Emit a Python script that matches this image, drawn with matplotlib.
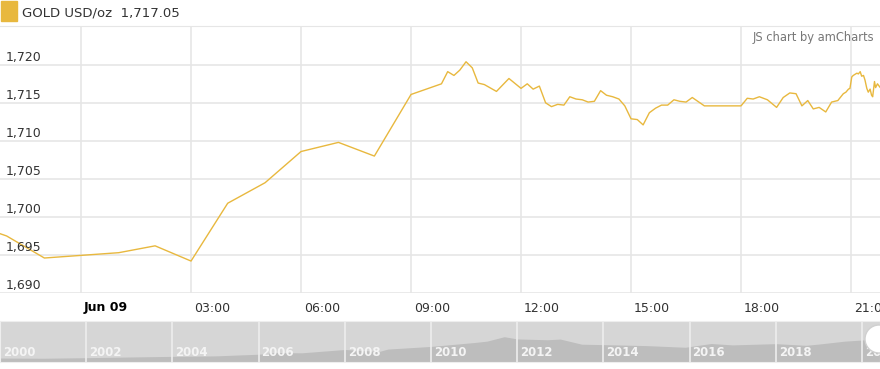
import numpy as np
import matplotlib
matplotlib.use("Agg")
import matplotlib.pyplot as plt
from matplotlib.patches import Rectangle, Ellipse

# -----------------------------
# data (hours from Jun 09 00:00, price USD/oz)
# -----------------------------
hours = [-2.21, -2.03, -1.0, 1.03, 2.02, 3.0, 4.0, 5.02, 6.0, 7.02, 8.0, 9.0,
         9.83, 10.0, 10.17, 10.33, 10.5, 10.67, 10.83, 11.0, 11.33, 11.67, 12.0,
         12.17, 12.33, 12.5, 12.67, 12.83, 13.0, 13.17, 13.33, 13.5, 13.67, 13.83,
         14.0, 14.17, 14.33, 14.5, 14.67, 14.83, 15.0, 15.17, 15.33, 15.5, 15.67,
         15.83, 16.0, 16.17, 16.33, 16.5, 16.67, 17.0, 18.0, 18.17, 18.33, 18.5,
         18.72, 18.97, 19.15, 19.33, 19.5, 19.66, 19.82, 19.97, 20.13, 20.31,
         20.47, 20.64, 20.79, 20.86, 20.93, 20.97, 21.02, 21.06, 21.16, 21.2,
         21.25, 21.29, 21.34, 21.38, 21.43, 21.47, 21.52, 21.56, 21.59, 21.64,
         21.67, 21.72, 21.79]
price = [1697.8, 1697.5, 1694.6, 1695.3, 1696.2, 1694.2, 1701.8, 1704.5, 1708.6,
         1709.8, 1708.0, 1716.1, 1717.5, 1719.1, 1718.6, 1719.3, 1720.4, 1719.6,
         1717.6, 1717.4, 1716.5, 1718.2, 1716.9, 1717.5, 1716.8, 1717.2, 1715.0,
         1714.5, 1714.8, 1714.7, 1715.8, 1715.5, 1715.4, 1715.1, 1715.2, 1716.6,
         1716.0, 1715.8, 1715.5, 1714.6, 1712.9, 1712.8, 1712.1, 1713.7, 1714.3,
         1714.7, 1714.7, 1715.4, 1715.2, 1715.1, 1715.7, 1714.6, 1714.6, 1715.6,
         1715.5, 1715.8, 1715.4, 1714.4, 1715.7, 1716.3, 1716.2, 1714.6, 1715.3,
         1714.2, 1714.4, 1713.8, 1715.1, 1715.3, 1716.2, 1716.4, 1716.8, 1716.9,
         1718.4, 1718.6, 1718.9, 1718.8, 1719.1, 1718.5, 1718.6, 1718.0, 1716.9,
         1716.4, 1716.8, 1716.0, 1715.8, 1717.8, 1717.0, 1717.5, 1717.05]

x_ticks = [0, 3, 6, 9, 12, 15, 18, 21]
x_labels = ["Jun 09", "03:00", "06:00", "09:00", "12:00", "15:00", "18:00", "21:00"]
y_ticks = [1690, 1695, 1700, 1705, 1710, 1715, 1720]

# navigator: long-term gold history (approx)
nav_years = [2000, 2001, 2002, 2003, 2004, 2005, 2006, 2006.4, 2007, 2008, 2008.8,
             2009, 2010, 2011, 2011.3, 2011.7, 2012, 2012.7, 2013, 2013.5, 2014,
             2015, 2015.9, 2016.5, 2017, 2018, 2018.7, 2019, 2019.6, 2020, 2020.42]
nav_price = [285, 270, 310, 360, 405, 440, 560, 680, 660, 900, 760, 930, 1120,
             1400, 1500, 1820, 1660, 1600, 1650, 1280, 1250, 1180, 1060, 1330,
             1230, 1320, 1200, 1290, 1500, 1580, 1720]
nav_labels = ["2000", "2002", "2004", "2006", "2008", "2010", "2012", "2014",
              "2016", "2018", "2020"]

gold = "#e8b83e"
grid_c = "#e6e6e6"
txt = "#333333"

fig = plt.figure(figsize=(8.8, 3.69), dpi=100)
W, H = 880, 369

# -----------------------------
# main chart
# -----------------------------
ax = fig.add_axes([0, 1 - 293 / H, 1, (293 - 26) / H])
ax.plot(hours, price, color=gold, lw=1.0)
ax.set_xlim(-2.21, 21.79)
ax.set_ylim(1690, 1725.1)
ax.set_xticks(x_ticks)
ax.set_yticks(y_ticks)
ax.grid(True, color=grid_c, lw=1.2)
ax.set_axisbelow(True)
ax.tick_params(length=0, labelbottom=False, labelleft=False)
for s in ["left", "right", "bottom"]:
    ax.spines[s].set_visible(False)
ax.spines["top"].set_color(grid_c)

for v in y_ticks:
    ax.text(-2.21 + 6 / 36.67, v + 0.15, f"{v:,}", fontsize=9, color=txt,
            ha="left", va="bottom")

for t, lab in zip(x_ticks, x_labels):
    fig.text((81 + 36.67 * t + 3) / W, 1 - 308 / H, lab, fontsize=9,
             color="#000000" if t == 0 else txt,
             fontweight="bold" if t == 0 else "normal", ha="left", va="center")

# legend + watermark
fig.patches.append(Rectangle((1 / W, 1 - 21 / H), 16 / W, 20 / H, transform=fig.transFigure,
                             color=gold, zorder=5))
fig.text(22 / W, 1 - 13 / H, "GOLD USD/oz  1,717.05", fontsize=9.5, color=txt,
         ha="left", va="center")
fig.text(874 / W, 1 - 37 / H, "JS chart by amCharts", fontsize=8.3, color="#777777",
         ha="right", va="center")

# -----------------------------
# navigator / scrollbar
# -----------------------------
nav = fig.add_axes([0, 1 - 362 / H, 1, 41 / H])
nav.set_facecolor("#d6d6d6")
nav.fill_between(nav_years, 0, nav_price, color="#bdbdbd", lw=0)
nav.set_xlim(2000, 2020.42)
nav.set_ylim(0, 2950)
for i, lab in enumerate(nav_labels):
    yr = 2000 + 2 * i
    nav.axvline(yr, color="#eeeeee", lw=1.2)
    nav.text(yr + 0.07, 200, lab, fontsize=8.5, color="#f4f4f4", fontweight="bold",
             ha="left", va="bottom")
nav.set_xticks([])
nav.set_yticks([])
for s in nav.spines.values():
    s.set_color("#eeeeee")

# scrollbar grip on the right end
fig.patches.append(Ellipse((879 / W, 1 - 339 / H), 28 / W, 28 / H, transform=fig.transFigure,
                           facecolor="white", edgecolor="#d0d0d0", lw=1, zorder=6))

plt.savefig("out.png", dpi=100)
